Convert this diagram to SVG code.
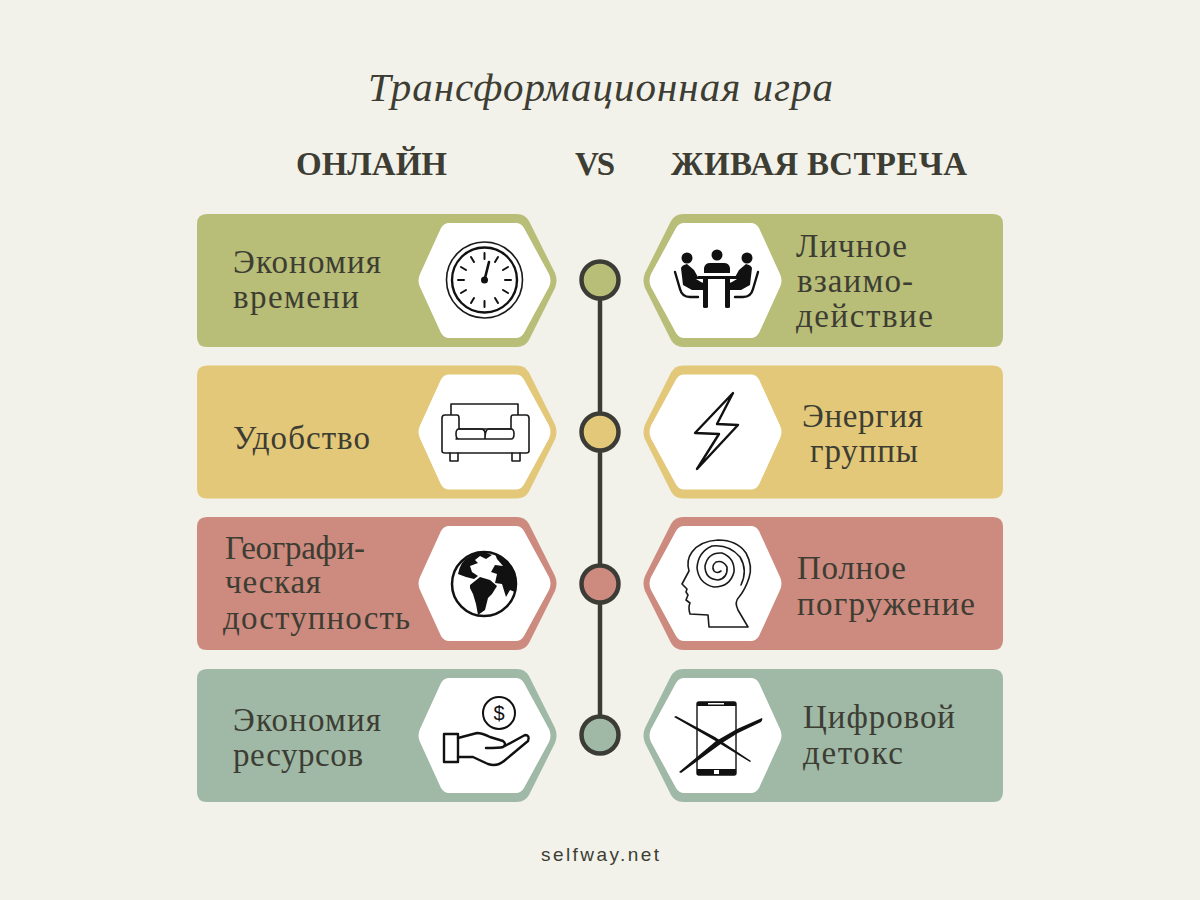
<svg xmlns="http://www.w3.org/2000/svg" width="1200" height="900" viewBox="0 0 1200 900">
<style>
.serif{font-family:"Liberation Serif","Times New Roman",serif;fill:#3d3d33}
.lbl{font-size:33px}
.head{font-size:33px;font-weight:700}
.g{fill:#b8bd78}.y{fill:#e2c878}.r{fill:#cd8a7e}.t{fill:#9fb9a6}
.hex{fill:#fff}
.ln{fill:none;stroke:#1a1a1a;stroke-width:1.6;stroke-linejoin:round;stroke-linecap:round}
.ln2{fill:none;stroke:#111;stroke-width:2.4;stroke-linejoin:round;stroke-linecap:round}
.bk{fill:#111}
.dot{stroke:#3c3c36;stroke-width:4.5}
</style>
<defs>
<path id="card" d="M207 0H517Q525 0 529 7L555 59Q558 66.500 555 74L529 126Q525 133 517 133H207Q197 133 197 123V10Q197 0 207 0Z"/>
<path id="hexa" d="M449 9H516Q521 9 524 14L549 60Q552 66.500 549 73L524 119Q521 124 516 124H449Q444 124 441 119L420 73Q417 66.500 420 60L441 14Q444 9 449 9Z"/>
</defs>
<rect width="1200" height="900" fill="#f2f2ea"/>
<text class="serif" x="368" y="101" font-size="41" font-style="italic" textLength="465">Трансформационная игра</text>
<text class="serif head" x="296" y="175" textLength="151">ОНЛАЙН</text>
<text class="serif head" x="575" y="175" textLength="40">VS</text>
<text class="serif head" x="671" y="175" textLength="296">ЖИВАЯ ВСТРЕЧА</text>

<g id="connectors" stroke="#3c3c36" stroke-width="4.5">
<line x1="600" y1="280" x2="600" y2="432"/>
<line x1="600" y1="432" x2="600" y2="584"/>
<line x1="600" y1="584" x2="600" y2="735"/>
</g>
<g id="dot1"><circle class="dot g" cx="600" cy="280" r="18.5"/></g>
<g id="dot2"><circle class="dot y" cx="600" cy="432" r="18.5"/></g>
<g id="dot3"><circle class="dot r" cx="600" cy="584" r="18.5"/></g>
<g id="dot4"><circle class="dot t" cx="600" cy="735" r="18.5"/></g>

<g id="left1">
<use href="#card" y="214" class="g"/><use href="#hexa" y="214" class="hex"/>
<text class="serif lbl" x="233" y="273" textLength="148">Экономия</text>
<text class="serif lbl" x="233" y="308" textLength="126">времени</text>
<circle class="ln" cx="484.500" cy="280" r="38" stroke-width="2"/><circle class="ln2" cx="484.500" cy="280" r="32.500"/>
<g stroke="#111" stroke-width="2" stroke-linecap="round">
<path d="M484.500 253v6M484.500 301v6M458 280h6M505 280h6M471 257l3 5M495 298l3 5M461 267l5 3M503 290l5 3M461 293l5-3M503 270l5-3M471 303l3-5M495 262l3-5"/>
<path d="M484.500 280L489 262" stroke-width="2.6"/>
</g>
<circle class="bk" cx="484.500" cy="280" r="3.500"/>
</g>

<g id="left2">
<use href="#card" y="365.500" class="y"/><use href="#hexa" y="365.500" class="hex"/>
<text class="serif lbl" x="233" y="449" textLength="137">Удобство</text>
<path class="ln" d="M451 415V404H518V415M445 415H457Q459 415 459 418V429H511V418Q511 415 513 415H526Q529 415 529 418V451Q529 453 526 453H445Q442 453 442 451V418Q442 415 445 415Z"/>
<path class="ln" d="M459 429H482Q485 430 485 433V439Q485 439 482 439H459Q456 439 456 434Q456 429 459 429ZM485 439Q485 429 489 429H511Q514 429 514 434Q514 439 511 439H485M456 439H459M450 453V461H458V453M512 453V461H520V453"/>
</g>

<g id="left3">
<use href="#card" y="517" class="r"/><use href="#hexa" y="517" class="hex"/>
<text class="serif lbl" x="225" y="559" textLength="140">Географи-</text>
<text class="serif lbl" x="225" y="593" textLength="96">ческая</text>
<text class="serif lbl" x="223" y="629" textLength="187">доступность</text>
<circle cx="484" cy="584" r="32" fill="none" stroke="#111" stroke-width="2.500"/>
<path class="bk" d="M462 563Q470 553 484 552L492 555L486 559L480 556L475 560L478 563L470 566L472 572L478 576L474 579L466 577L458 574Q459 568 462 563ZM470 585L480 577L490 580L497 586L492 594L488 598L485 610L478 615L476 604L473 594L470 588ZM495 554Q508 558 515 572Q517 582 515 592L510 590L506 597L502 584L495 583L497 574L491 572L495 565L503 566L497 559Z"/>
</g>

<g id="left4">
<use href="#card" y="669" class="t"/><use href="#hexa" y="669" class="hex"/>
<text class="serif lbl" x="233" y="731" textLength="148">Экономия</text>
<text class="serif lbl" x="233" y="766" textLength="130">ресурсов</text>
<circle cx="499" cy="713" r="16" fill="none" stroke="#111" stroke-width="2"/>
<text x="499" y="720" text-anchor="middle" font-family="Liberation Sans, Arial, sans-serif" font-size="20" fill="#111">$</text>
<rect class="ln2" x="444" y="734" width="14" height="28"/>
<path class="ln2" d="M458 738L477 733Q482 733 490 737L503 741Q507 744 503 747Q500 748 486 748M503 747L525 735Q530 735 528 741L504 761Q497 767 488 764L473 757Q466 757 458 757"/>
</g>

<g id="right1">
<use href="#card" y="214" class="g" transform="matrix(-1 0 0 1 1200 0)"/><use href="#hexa" y="214" class="hex" transform="matrix(-1 0 0 1 1200 0)"/>
<text class="serif lbl" x="796" y="257" textLength="111">Личное</text>
<text class="serif lbl" x="797" y="292" textLength="116">взаимо-</text>
<text class="serif lbl" x="796" y="327" textLength="137">действие</text>
<circle class="bk" cx="687" cy="258" r="5.500"/><circle class="bk" cx="717" cy="255" r="5.500"/><circle class="bk" cx="747" cy="258" r="5.500"/>
<path class="bk" d="M704 273V268Q705 263 710 263H724Q729 263 730 268V273ZM698 276H736V279H698ZM703 279H708V307Q708 308 706 308H705Q703 308 703 307ZM725 279H730V307Q730 308 728 308H727Q725 308 725 307Z"/>
<path class="bk" d="M681 268Q682 265 687 264L694 270L699 279H696L701 282Q708 284 708 290H692L683 285ZM752 268Q751 265 746 264L739 270L734 279H737L732 282Q725 284 725 290H741L750 285Z"/>
<path class="ln2" d="M675 272L680 289Q682 297 690 297H698M758 272L753 289Q751 297 743 297H735"/>
</g>

<g id="right2">
<use href="#card" y="365.500" class="y" transform="matrix(-1 0 0 1 1200 0)"/><use href="#hexa" y="365.500" class="hex" transform="matrix(-1 0 0 1 1200 0)"/>
<text class="serif lbl" x="802" y="427" textLength="121">Энергия</text>
<text class="serif lbl" x="810" y="462" textLength="108">группы</text>
<path class="ln2" d="M733 393L695 433L719 434L697 469L738 425L717 424Z"/>
</g>

<g id="right3">
<use href="#card" y="517" class="r" transform="matrix(-1 0 0 1 1200 0)"/><use href="#hexa" y="517" class="hex" transform="matrix(-1 0 0 1 1200 0)"/>
<text class="serif lbl" x="797" y="579" textLength="109">Полное</text>
<text class="serif lbl" x="797" y="615" textLength="178">погружение</text>
<path class="ln" d="M709 627L708 615L690 614Q688 607 690 603L686 600L688 595L686 592L687 589L682 584L689 571Q686 560 692 552Q700 541 718 540Q737 540 746 553Q753 566 749 578Q745 590 739 597Q734 602 738 610L748 627Z"/>
<path class="ln" d="M741 585Q748 570 740 557Q729 544 712 546Q698 552 697 568Q699 584 714 587Q730 587 734 572Q735 558 722 553Q708 552 705 566Q705 579 718 580Q728 578 727 567Q723 560 716 562Q711 566 714 571Q717 574 721 571"/>
</g>

<g id="right4">
<use href="#card" y="669" class="t" transform="matrix(-1 0 0 1 1200 0)"/><use href="#hexa" y="669" class="hex" transform="matrix(-1 0 0 1 1200 0)"/>
<text class="serif lbl" x="803" y="728" textLength="152">Цифровой</text>
<text class="serif lbl" x="803" y="764" textLength="100">детокс</text>
<rect x="697" y="702" width="39" height="73" rx="2" fill="none" stroke="#111" stroke-width="1.400"/>
<path class="bk" d="M697 704Q697 702 699 702H734Q736 702 736 704V706H697ZM697 769H736V773Q736 775 734 775H699Q697 775 697 773Z"/>
<rect x="708" y="703" width="16" height="1.500" fill="#fff"/>
<rect x="714" y="770" width="5" height="4" fill="#fff"/>
<path class="bk" d="M674 717L676 716L715 737L751 761L750 762L713 739.500Z"/>
<path class="bk" d="M762 718Q763 720 761 722L738 733L722 743L681 773L679 772L716 741L737 729Z"/>
</g>

<text id="site" x="541" y="861" font-family="Liberation Sans, Arial, sans-serif" font-size="19" fill="#3d3d33" textLength="118">selfway.net</text>
</svg>
